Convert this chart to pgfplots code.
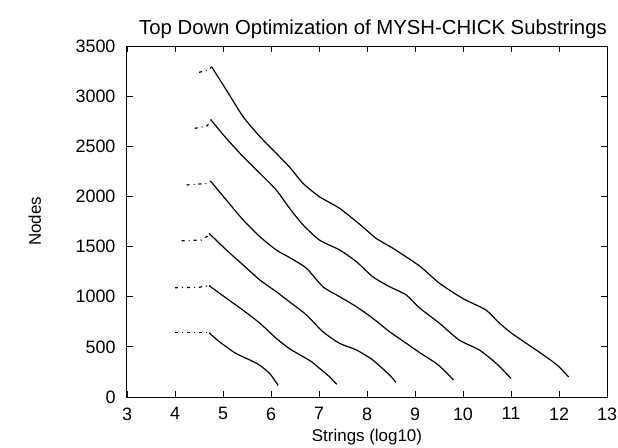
\documentclass[border=0pt]{standalone}
\usepackage{fontspec}
\setmainfont{Liberation Sans}
\usepackage{pgfplots}
\pgfplotsset{compat=1.18}
\begin{document}
\begin{tikzpicture}
\begin{axis}[
  width=480bp, height=351bp, scale only axis,
  xmin=3, xmax=13, ymin=0, ymax=3500,
  xtick={3,4,...,13}, ytick={0,500,...,3500},
  tick align=inside, major tick length=6bp,
  tick style={black, line width=0.8bp},
  axis line style={black, line width=1bp},
  /pgf/number format/assume math mode=true,
  /pgf/number format/1000 sep={},
  ticklabel style={font=\fontsize{18}{20}\selectfont},
  xticklabel style={yshift=-7bp},
  yticklabel style={xshift=-8bp},
  title={Top Down Optimization of MYSH-CHICK Substrings},
  title style={font=\fontsize{20.4}{23}\selectfont, yshift=-2bp, xshift=6bp},
  xlabel={Strings (log10)},
  ylabel={Nodes},
  xlabel style={font=\fontsize{17}{19}\selectfont, at={(axis description cs:0.5,0)}, anchor=north, yshift=-29bp},
  every axis y label/.style={font=\fontsize{17}{19}\selectfont, at={(axis description cs:-0.192,0.5)}, rotate=90, anchor=center},
  solidpart/.style={black, solid, no markers, line width=1.2bp, smooth, tension=0.4},
  dotpart/.style={black, no markers, line width=1.2bp, dash pattern=on 3bp off 4bp on 1bp off 4bp},
]
% curve 1
\addplot[dotpart] coordinates {(4.0,641) (4.57,641) (4.71,641)};
\addplot[solidpart] coordinates {(4.71,641) (4.9,560) (5.07,500) (5.25,440) (5.42,400) (5.6,360) (5.77,315) (5.97,236) (6.15,115)};
% curve 2
\addplot[dotpart] coordinates {(4.0,1090) (4.5,1094) (4.71,1110)};
\addplot[solidpart] coordinates {(4.71,1110) (5.07,985) (5.42,865) (5.77,735) (6.11,585) (6.39,480) (6.67,402) (6.85,350) (7.01,286) (7.2,210) (7.37,127)};
% curve 3
\addplot[dotpart] coordinates {(4.14,1558) (4.55,1565) (4.71,1615)};
\addplot[solidpart] coordinates {(4.71,1632) (5.07,1466) (5.42,1316) (5.77,1166) (6.11,1050) (6.39,947) (6.74,818) (7.08,651) (7.43,535) (7.78,469) (8.12,369) (8.47,219) (8.6,147)};
% curve 4
\addplot[dotpart] coordinates {(4.24,2114) (4.66,2130) (4.74,2153)};
\addplot[solidpart] coordinates {(4.74,2153) (5.07,1964) (5.42,1765) (5.77,1598) (6.11,1466) (6.39,1390) (6.74,1283) (7.08,1100) (7.43,1000) (7.78,900) (8.12,785) (8.47,651) (8.82,535) (9.09,445) (9.44,336) (9.62,260) (9.8,170)};
% curve 5
\addplot[dotpart] coordinates {(4.41,2679) (4.66,2700) (4.73,2740)};
\addplot[solidpart] coordinates {(4.74,2768) (5.07,2579) (5.42,2396) (5.77,2230) (6.11,2064) (6.39,1880) (6.67,1715) (7.01,1565) (7.43,1466) (7.78,1349) (8.12,1199) (8.47,1100) (8.82,1017) (9.09,890) (9.51,735) (9.92,568) (10.34,469) (10.69,336) (11.0,186)};
% curve 6
\addplot[dotpart] coordinates {(4.5,3237) (4.7,3262) (4.75,3285)};
\addplot[solidpart] coordinates {(4.76,3295) (5.07,3061) (5.42,2795) (5.77,2596) (6.11,2430) (6.39,2290) (6.67,2130) (7.01,1997) (7.43,1881) (7.84,1725) (8.19,1582) (8.54,1483) (9.09,1308) (9.51,1134) (9.99,984) (10.48,867) (10.75,740) (11.03,630) (11.52,470) (11.79,380) (12.0,302) (12.2,200)};
\end{axis}
\pgfresetboundingbox
\path (current axis.south west) ++(-127bp,-51bp) rectangle ++(618bp,448bp);
\end{tikzpicture}
\end{document}
